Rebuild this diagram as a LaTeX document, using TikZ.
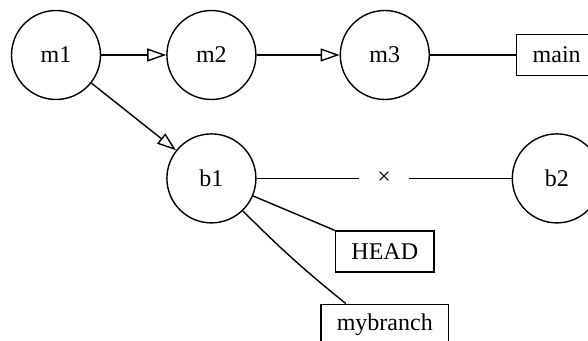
\documentclass[tikz,border=0pt]{standalone}
\usepackage{fontspec}
\setmainfont{Liberation Serif}
\usetikzlibrary{positioning,arrows.meta}

\begin{document}
\begin{tikzpicture}[x=0.5pt,y=-0.5pt,font=\fontsize{12}{14}\selectfont,line width=0.7pt]
    \tikzstyle{commit} = [circle,draw,minimum size=44.5pt,inner sep=0pt]
    \tikzstyle{ref} = [rectangle,draw,minimum height=20.5pt,inner xsep=8pt]
    \tikzstyle{parent} = [-{Triangle[open,length=9.5pt,width=6.5pt]}]
    \useasboundingbox (0,0) rectangle (588,341);

    \node [commit] (m1) at (56,55) {m1};
    \node [commit, right=32.5pt of m1] (m2) {m2};
    \node [commit, right=41.5pt of m2] (m3) {m3};
    \node [ref, right=43pt of m3] (main) {main};

    \node [commit, below=16.5pt of m2] (b1) {b1};
    \node [commit, right=127.5pt of b1] (b2) {b2};

    \node [ref, below=65pt of m3] (head) {HEAD};
    \node [ref, below=15.5pt of head] (mybranch) {mybranch};

    \draw [parent] (m1) -- (m2);
    \draw [parent] (m2) -- (m3);
    \draw (m3) -- (main);
    \draw [parent] (m1) -- (b1);
    \draw (b1) -- node [fill=white,inner xsep=9pt] {×} (b2);
    \draw (b1) -- (head);
    \draw (b1) to [bend right=3] ([xshift=-19.5pt]mybranch.north);
\end{tikzpicture}
\end{document}
